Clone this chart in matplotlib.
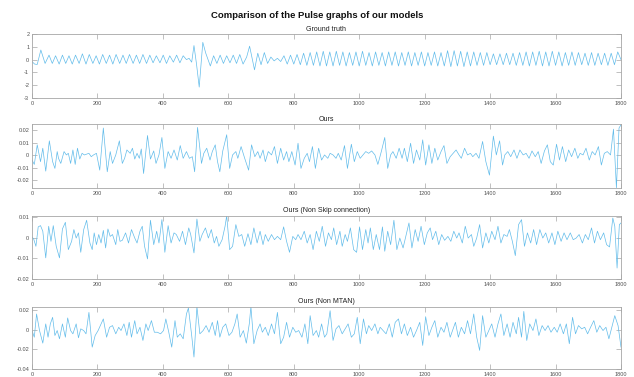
import numpy as np
import matplotlib
matplotlib.use("Agg")
import matplotlib.pyplot as plt

plt.rcParams['font.family'] = ['Liberation Sans', 'DejaVu Sans']
plt.rcParams['axes.unicode_minus'] = False

main_title = "Comparison of the Pulse graphs of our models"
panel_titles = ["Ground truth", "Ours", "Ours (Non Skip connection)", "Ours (Non MTAN)"]

x_ticks = [0, 200, 400, 600, 800, 1000, 1200, 1400, 1600, 1800]

# ---- Ground truth (extrema) ----
gt_x = [0, 8, 16, 27, 40, 52, 62, 72, 83, 93, 103, 113, 123, 133, 144, 154, 165, 175, 186, 196,
        206, 216, 227, 237, 247, 257, 268, 278, 288, 298, 309, 319, 329, 339, 350, 360, 370, 380,
        391, 401, 411, 421, 432, 442, 452, 462, 472, 480, 488, 495, 503, 511, 522, 531, 545, 555,
        565, 575, 585, 595, 605, 615, 625, 635, 645, 656, 665, 680, 690, 700, 710, 720, 730, 740,
        750, 760, 770, 780,
        790, 800, 810, 820, 830, 840, 850, 860, 870, 880, 890, 900, 910, 920, 930, 940, 950, 960,
        970, 980, 990, 1000, 1010, 1020, 1030, 1040, 1050, 1060, 1070, 1080, 1090, 1100, 1110,
        1120, 1130, 1140, 1150, 1160, 1170, 1180, 1190, 1200, 1210, 1220, 1230, 1240, 1250, 1260,
        1270, 1280, 1290, 1300, 1310, 1320, 1330, 1340, 1350, 1360, 1370, 1380, 1390, 1400, 1410,
        1420, 1430, 1440, 1450, 1460, 1470, 1480, 1490, 1500, 1510, 1520, 1530, 1540, 1550, 1560,
        1570, 1580, 1590, 1600, 1610, 1620, 1630, 1640, 1650, 1660, 1670, 1680, 1690, 1700, 1710,
        1720, 1730, 1740, 1750, 1760, 1770, 1780, 1790, 1800]
gt_y = [-0.15, -0.35, -0.38, 0.75, -0.3, 0.35, -0.3, 0.3, -0.35, 0.35, -0.3, 0.3, -0.35, 0.35, -0.3,
        0.45, -0.35, 0.4, -0.3, 0.3, -0.35, 0.4, -0.3, 0.35, -0.35, 0.4, -0.3, 0.35, -0.3, 0.4, -0.3,
        0.35, -0.3, 0.4, -0.3, 0.35, -0.25, 0.3, -0.25, 0.35, -0.3, 0.3, -0.2, 0.35, -0.25, 0.3, 0.0,
        0.1, -0.2, 1.1, -0.4, -2.15, 1.35, 0.5, -0.5, 0.3, -0.3, 0.35, -0.3, 0.3, -0.25, 0.35, -0.3,
        0.4, -0.35, 0.2, 1.05, -0.8, 0.5, -0.4, 0.55, -0.3, 0.2, -0.1, 0.1, -0.15, 0.3, -0.35,
        0.35, -0.35, 0.4, -0.4, 0.5, -0.45, 0.55, -0.45, 0.6, -0.5, 0.65, -0.5, 0.6, -0.5, 0.65,
        -0.45, 0.6, -0.5, 0.55, -0.45, 0.6, -0.5, 0.65, -0.45, 0.55, -0.5, 0.6, -0.45, 0.55, -0.5,
        0.6, -0.45, 0.6, -0.5, 0.55, -0.45, 0.6, -0.5, 0.55, -0.45, 0.6, -0.5, 0.55, -0.45, 0.6,
        -0.5, 0.55, -0.5, 0.7, -0.55, 0.7, -0.5, 0.65, -0.55, 0.6, -0.5, 0.6, -0.45, 0.55, -0.45,
        0.55, -0.4, 0.45, -0.4, 0.45, -0.4, 0.5, -0.4, 0.5, -0.45, 0.55, -0.45, 0.6, -0.5, 0.6,
        -0.45, 0.65, -0.5, 0.6, -0.5, 0.65, -0.45, 0.6, -0.5, 0.55, -0.45, 0.6, -0.45, 0.55, -0.4,
        0.5, -0.45, 0.55, -0.45, 0.5, -0.4, 0.5, -0.45, 0.5, -0.4, 0.6, 0.0]

# ---- Ours (values in thousandths) ----
ours_x = [0, 7, 16, 26, 33, 42, 53, 63, 70, 77, 81, 88, 98, 105, 111, 118, 125, 132, 139, 146, 153,
          160, 174, 181, 188, 197, 207, 218, 230, 239, 246, 256, 267, 276, 283, 290, 300, 307, 314,
          321, 328, 334, 341, 353, 362, 372, 379, 388, 397, 406, 416, 425, 434, 444, 453, 462, 472,
          481, 490, 497, 506, 518, 525, 534, 544, 551, 560, 567, 574, 583, 595, 604, 613, 623, 629,
          639, 650, 662, 671, 681, 690, 697, 706, 713, 722, 732, 741, 750, 760, 769, 778, 785, 794,
          804, 813, 822, 832, 841, 848, 857, 866, 876, 885, 894, 904, 911, 920, 929, 936, 945, 955,
          964, 976, 985, 994, 1003, 1020, 1029, 1038, 1048, 1057, 1068, 1078, 1087, 1096, 1103,
          1113, 1122, 1131, 1138, 1147, 1157, 1166, 1175, 1185, 1194, 1203, 1213, 1222, 1231, 1240,
          1250, 1259, 1268, 1278, 1287, 1296, 1305, 1312, 1322, 1331, 1340, 1347, 1357, 1366, 1377,
          1387, 1398, 1410, 1419, 1429, 1438, 1445, 1454, 1463, 1473, 1482, 1491, 1501, 1510, 1519,
          1528, 1538, 1547, 1556, 1566, 1575, 1584, 1593, 1603, 1612, 1621, 1631, 1640, 1649, 1659,
          1668, 1675, 1684, 1693, 1703, 1712, 1721, 1731, 1740, 1749, 1758, 1768, 1777, 1786, 1794,
          1800]
ours_y = [-3.8, -7.3, 8.4, -5.1, 5.7, -12.7, 11.6, -5.1, -10.5, 3.0, -2.4, -6.5, 3.0, 0.3, 1.6, -6.5,
          4.3, -7.3, 5.7, -3.0, 1.6, 0.3, 1.6, -1.1, 0.3, 1.6, -11.9, 21.9, -13.2, 3.0, -6.5, 0.3,
          11.6, -6.5, -2.4, 4.3, 1.6, 5.7, -3.0, 1.6, -2.4, 5.1, -14.6, 15.9, -3.0, 3.5, -6.5, 0.3,
          14.3, -10.5, 3.0, -2.4, 4.3, -3.8, 7.8, -2.4, 3.0, -2.4, -1.1, -13.2, 22.4, -6.5, 1.6, 5.7,
          -3.8, 3.0, 8.4, -5.1, -13.2, 3.5, 16.5, -10.5, 0.3, 3.0, -2.4, 7.0, -2.4, -11.9, 8.4, -1.1,
          3.0, -2.4, 4.3, -5.1, 3.0, 0.3, 7.0, -6.5, 5.7, -3.8, 3.0, -5.1, 3.0, -7.8, 9.7, -10.5,
          -2.4, 1.6, -5.1, 7.0, -10.5, 5.7, -3.8, 0.3, -2.4, 1.6, 0.3, -2.4, 1.6, -3.8, 7.8, -10.5,
          8.9, -5.1, 3.0, -2.4, 3.0, 1.6, 3.5, 0.3, -7.3, 3.5, 14.3, -10.5, 0.3, 3.0, -2.4, 5.7,
          -2.4, 5.7, -5.1, 9.7, -6.5, 4.3, -3.8, 12.4, -7.8, 8.4, -6.5, 5.7, -3.8, 3.0, 7.8, -6.5,
          -1.1, 1.6, 4.3, 0.3, -2.4, 5.7, 0.3, 1.6, -1.1, 1.6, -2.4, 11.1, -5.1, -15.9, 15.4, 0.3,
          11.6, -7.8, 0.3, 3.0, -1.1, 4.3, -2.4, 4.3, 0.3, 1.6, -2.4, 3.5, -1.1, 3.0, -6.5, 3.5,
          8.4, -5.1, -7.8, 8.9, -3.8, 7.0, -5.1, 4.3, -1.1, 5.7, -2.4, 1.6, 0.3, 5.7, -3.8, 3.0,
          0.3, 7.0, -7.8, 1.6, 3.0, 0.3, 21.0, -26.0, 21.9, 24.5]

# ---- Ours (Non Skip connection), thousandths ----
nsk_x = [0, 5, 12, 19, 26, 33, 42, 51, 58, 65, 74, 84, 93, 102, 111, 121, 128, 135, 142, 149, 158,
         167, 177, 184, 190, 197, 204, 211, 218, 225, 232, 239, 246, 256, 262, 269, 276, 286, 295,
         304, 314, 321, 330, 337, 344, 353, 362, 372, 381, 388, 397, 406, 416, 425, 434, 441, 451,
         460, 469, 479, 485, 495, 504, 513, 520, 530, 539, 548, 557, 564, 571, 581, 590, 595, 604,
         613, 623, 632, 641, 650, 660, 669, 678, 688, 697, 706, 713, 722, 732, 741, 750, 760, 769,
         778, 787, 797, 806, 813, 822, 832, 841, 850, 859, 869, 878, 887, 897, 906, 915, 922, 931,
         941, 948, 957, 964, 973, 983, 992, 1001, 1010, 1020, 1027, 1034, 1043, 1052, 1062, 1071,
         1078, 1087, 1096, 1106, 1115, 1124, 1134, 1143, 1152, 1161, 1171, 1180, 1189, 1199, 1208,
         1217, 1224, 1234, 1243, 1252, 1261, 1271, 1280, 1289, 1298, 1305, 1315, 1324, 1333, 1343,
         1350, 1359, 1368, 1377, 1387, 1396, 1405, 1415, 1424, 1433, 1442, 1452, 1459, 1468, 1477,
         1487, 1496, 1505, 1514, 1524, 1533, 1542, 1552, 1561, 1570, 1579, 1589, 1598, 1607, 1617,
         1626, 1635, 1645, 1654, 1663, 1672, 1682, 1691, 1700, 1710, 1719, 1728, 1737, 1747, 1756,
         1765, 1775, 1781, 1788, 1795, 1800]
nsk_y = [0.3, -0.6, -4.2, 5.2, 5.8, 3.1, -9.8, 5.5, -1.8, 5.8, -4.2, -9.8, 4.2, 7.4, -5.8, -1.8, 3.9,
         -0.2, 2.3, -7.1, 3.9, 8.4, -2.6, -5.8, 2.3, -3.4, 1.5, -2.6, 3.5, -5.0, 4.2, 0.6, 1.5, -3.4,
         3.9, -1.8, -1.3, 2.3, -2.6, 3.9, -0.2, -2.6, 3.1, 5.5, -4.2, -10.3, 8.4, -3.4, 3.1, -2.6,
         8.7, -7.1, 5.8, -2.6, 2.3, 1.5, -1.8, 3.1, -3.4, 4.7, 1.5, -7.4, 9.0, -1.8, 1.5, 4.7, -0.2,
         3.9, -2.6, 0.6, -4.2, -1.0, 5.5, 10.6, -5.8, -4.2, 6.3, 0.6, 1.5, -4.2, 1.9, -3.4, 4.7,
         -2.6, 3.1, -3.4, 1.5, -1.8, 1.5, -1.0, 0.6, -1.0, 5.2, -1.8, -7.1, 0.6, -1.0, 1.5, -1.0,
         3.1, -2.6, 1.5, -5.8, 3.1, -1.8, 5.5, -4.2, 2.3, -1.0, 4.7, -3.4, 3.1, -4.2, 1.5, -1.8, 4.7,
         -5.8, -7.1, 5.2, -5.8, 3.9, -2.6, 4.7, -5.8, 1.5, -5.8, 5.2, -6.6, 3.1, -3.4, 8.4, -5.8,
         -0.2, -5.0, 1.0, 7.1, -5.0, 3.9, -1.8, 5.5, -3.4, 2.3, 4.7, -1.0, 3.1, -3.4, 1.5, -1.3, 0.6,
         -1.8, 3.1, -0.2, 2.3, -2.6, 5.5, -0.2, 1.5, -4.2, -0.2, 6.3, -5.0, 2.3, -2.6, 3.1, -1.0,
         5.5, -2.6, 1.5, 0.6, 3.9, -1.8, -8.7, 6.3, 8.7, -4.2, 2.3, -2.6, 3.9, -3.4, 3.9, -0.2, 2.3,
         -2.6, 2.3, -3.4, 3.1, -1.8, 2.3, -1.0, 2.3, -1.0, -0.2, 1.5, -2.6, 1.5, -1.0, 4.7, -2.6,
         3.1, -1.0, 2.3, -3.4, -4.5, 9.5, 5.5, -14.7, 6.3, 7.1]

# ---- Ours (Non MTAN), thousandths ----
nmt_x = [0, 7, 14, 23, 33, 42, 49, 56, 63, 70, 77, 84, 93, 102, 109, 118, 125, 135, 142, 149, 158,
         165, 174, 184, 193, 202, 211, 218, 228, 237, 246, 256, 265, 272, 281, 290, 297, 304, 314,
         321, 330, 339, 348, 355, 365, 374, 383, 393, 402, 409, 418, 427, 437, 444, 453, 462, 472,
         478, 488, 495, 504, 513, 523, 532, 541, 551, 560, 567, 574, 583, 592, 602, 611, 620, 627,
         636, 646, 655, 664, 669, 678, 688, 697, 704, 713, 722, 732, 741, 750, 760, 769, 778, 787,
         797, 806, 815, 825, 834, 843, 850, 859, 869, 876, 885, 894, 901, 911, 920, 929, 938, 948,
         957, 966, 976, 985, 994, 1003, 1013, 1022, 1029, 1038, 1048, 1057, 1064, 1073, 1082, 1092,
         1101, 1110, 1120, 1129, 1138, 1147, 1157, 1166, 1175, 1185, 1194, 1203, 1213, 1222, 1231,
         1240, 1250, 1259, 1268, 1278, 1285, 1294, 1303, 1312, 1322, 1331, 1340, 1350, 1359, 1368,
         1377, 1387, 1396, 1405, 1415, 1424, 1433, 1442, 1452, 1461, 1470, 1480, 1487, 1496, 1503,
         1512, 1521, 1531, 1540, 1549, 1559, 1568, 1577, 1586, 1596, 1605, 1614, 1624, 1633, 1642,
         1652, 1661, 1670, 1680, 1689, 1698, 1707, 1717, 1726, 1735, 1745, 1754, 1763, 1772, 1781,
         1791, 1800]
nmt_y = [-1.0, -7.7, 15.7, -1.0, -13.7, 5.7, -7.7, 5.7, 12.3, -6.0, -1.0, -9.3, 5.7, -7.7, 11.7, -1.0,
         -4.3, 5.7, -8.3, 0.7, -1.0, -4.3, 17.3, -17.7, -6.0, -1.0, 5.7, 10.7, -7.7, 2.3, 4.0, -4.3,
         2.3, -1.0, 5.7, -6.0, 7.3, -7.7, 9.0, -4.3, 2.3, -11.0, 5.7, -1.0, 9.0, -2.7, -2.7, -4.3,
         -1.0, 10.7, -2.7, -17.7, 9.0, -7.7, -4.3, -9.3, 15.7, 21.7, -6.0, -27.7, 23.0, -4.3, -1.0,
         4.0, -2.7, 7.3, -6.0, 9.0, -7.7, 2.3, 5.7, -6.0, -2.7, 5.7, 15.7, -7.7, -1.0, -13.7, 5.7,
         23.0, -14.3, -1.0, 5.7, -2.7, 2.3, -6.0, 5.7, -4.3, 17.3, -14.3, -7.7, 7.3, -7.7, 2.3, -2.7,
         -1.0, -7.7, 5.7, -14.3, 14.0, -6.0, -1.0, -7.7, 5.7, -7.7, -4.3, 19.0, -11.0, 0.7, 4.0,
         -4.3, 0.7, 5.7, -7.7, -4.3, 12.3, -14.3, 10.7, -4.3, 4.0, -1.0, 5.7, -4.3, 2.3, -1.0, -4.3,
         5.7, -7.7, 7.3, 10.7, -4.3, 5.7, -6.0, 2.3, -7.7, -1.0, 7.3, -16.0, 13.0, -6.0, 2.3, 9.0,
         -7.7, 2.3, -2.7, 7.3, -7.7, -1.0, 7.3, -7.7, 2.3, -4.3, 9.0, -4.3, 15.7, -7.7, -21.0, 14.0,
         -7.7, -1.0, 5.7, -7.7, 5.7, 15.7, -6.0, 5.7, -7.7, 7.3, -4.3, 12.3, -7.7, 18.3, -11.0, 5.7,
         -1.0, 10.7, -6.0, 4.0, -1.0, 4.0, -2.7, 2.3, -2.7, 5.7, -4.3, 5.7, -14.3, 12.3, -4.3, 4.0,
         0.7, 2.3, -4.3, 2.3, 9.0, -2.7, 4.0, -1.0, 2.3, -9.3, 2.3, 14.0, 4.0, -17.7]

series = [
    (gt_x, np.array(gt_y)),
    (ours_x, np.array(ours_y) * 1e-3),
    (nsk_x, np.array(nsk_y) * 1e-3),
    (nmt_x, np.array(nmt_y) * 1e-3),
]

y_limits = [(-3, 2), (-0.0262, 0.0251), (-0.02, 0.0106), (-0.04, 0.023)]
y_ticks = [[-3, -2, -1, 0, 1, 2],
           [-0.02, -0.01, 0, 0.01, 0.02],
           [-0.02, -0.01, 0, 0.01],
           [-0.04, -0.02, 0, 0.02]]
y_ticklabels = [["-3", "-2", "-1", "0", "1", "2"],
                ["-0.02", "-0.01", "0", "0.01", "0.02"],
                ["-0.02", "-0.01", "0", "0.01"],
                ["-0.04", "-0.02", "0", "0.02"]]

fig = plt.figure(figsize=(6.34, 3.77), dpi=100)
H = 377.0
W = 634.0
boxes = [(34, 98), (124, 188), (215.7, 279), (306.7, 369.3)]
left_px, right_px = 32, 621

line_color = '#62BCEA'
axis_color = '#a6a6a6'
label_color = '#505050'

for i, ((xs, ys), (top, bot)) in enumerate(zip(series, boxes)):
    ax = fig.add_axes([left_px / W, 1 - bot / H, (right_px - left_px) / W, (bot - top) / H])
    ax.plot(xs, ys, color=line_color, lw=0.5, solid_joinstyle='round')
    ax.set_xlim(0, 1800)
    ax.set_ylim(*y_limits[i])
    ax.set_xticks(x_ticks)
    ax.set_xticklabels([str(t) for t in x_ticks])
    ax.set_yticks(y_ticks[i])
    ax.set_yticklabels(y_ticklabels[i])
    for sp in ax.spines.values():
        sp.set_color(axis_color)
        sp.set_linewidth(0.6)
    ax.tick_params(direction='in', top=True, right=True, length=3.5, width=0.5,
                   color=axis_color, labelsize=4, labelcolor=label_color, pad=2)
    ax.set_title(panel_titles[i], fontsize=5, color='#202020', pad=2.5)

fig.text(0.5, 1 - 15 / H, main_title, ha='center', va='center',
         fontsize=6.8, fontweight='bold', color='#111111')

fig.savefig('out.png', dpi=100)
